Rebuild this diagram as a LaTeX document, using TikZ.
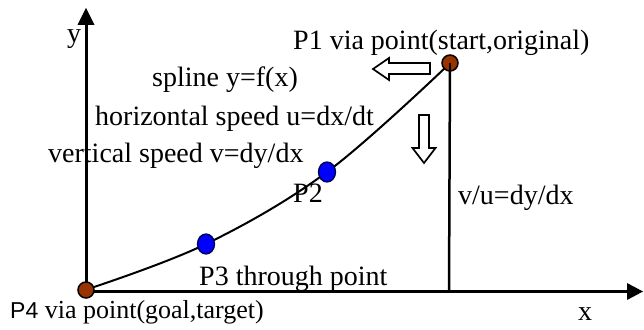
\documentclass[tikz,border=0pt]{standalone}
\usepackage{fontspec}
\usetikzlibrary{shapes.geometric}
\setmainfont{Liberation Serif}
\newfontfamily\arialfont{Liberation Sans}
\begin{document}
\begin{tikzpicture}[x=1pt,y=1pt,
  lbl/.style={inner sep=0pt,anchor=base west,font=\fontsize{28}{28}\selectfont},
  axis/.style={line width=3pt},
  via/.style={circle,draw=black,line width=1.5pt,fill={rgb,255:red,153;green,51;blue,0},minimum size=16pt,inner sep=0pt},
  thru/.style={ellipse,draw=black!70!blue,line width=1.3pt,fill=blue,minimum width=17pt,minimum height=20pt,inner sep=0pt},
  hollow/.style={draw=black,line width=1.7pt,fill=white}]
\useasboundingbox (0,0) rectangle (644,329);
% axes
\coordinate (O) at (86,37.5);
\coordinate (ytop) at (86,321);
\coordinate (xend) at (643,37.5);
\draw[axis] (O) -- (86,304);
\fill (ytop) -- (77.5,304) -- (94.5,304) -- cycle;
\draw[axis] (O) -- (627,37.5);
\fill (xend) -- (627,46) -- (627,29) -- cycle;
% point positions
\coordinate (c1) at (450,266);
\coordinate (c2) at (327,157);
\coordinate (c3) at (206,85);
\coordinate (c4) at (86,39);
\coordinate (foot) at (449,37.5);
% vertical line from P1
\draw[line width=2.5pt] (c1) -- (foot);
% spline
\draw[line width=2pt] plot[smooth,tension=0.6] coordinates {(88,40) (206,85) (327,157) (446,262)};
% points
\node[via] (P1) at (c1) {};
\node[via] (P4) at (c4) {};
\node[thru] (P3) at (c3) {};
\node[thru] (P2) at (c2) {};
\draw[line width=2.5pt] (P1.center) -- (P1.south);
% hollow arrows
\draw[hollow] (430,255) -- (389,255) -- (389,249) -- (373,260) -- (389,271) -- (389,266) -- (430,266) -- cycle;
\draw[hollow] (419,214) -- (429,214) -- (429,181) -- (435.5,181) -- (424,166) -- (412.5,181) -- (419,181) -- cycle;
% labels
\node[lbl] (ly) at (67,286) {y};
\node[lbl] (l1) at (293,279) {P1 via point(start,original)};
\node[lbl] (ls) at (152,242) {spline y=f(x)};
\node[lbl] (lh) at (95,203) {horizontal speed u=dx/dt};
\node[lbl] (lv) at (48,166) {vertical speed v=dy/dx};
\node[lbl] (l2) at (293,126) {P2};
\node[lbl] (lr) at (458,124) {v/u=dy/dx};
\node[lbl] (l3) at (199,44) {P3 through point};
\node[lbl] (lx) at (578,9) {x};
\node[lbl,font=\fontsize{26}{26}\selectfont] (l4) at (10,11) {{\arialfont\fontsize{23}{23}\selectfont P4} via point(goal,target)};
\end{tikzpicture}
\end{document}
